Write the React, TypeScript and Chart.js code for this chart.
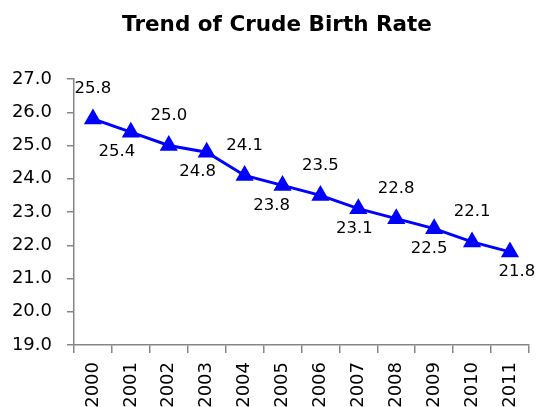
import React, { useEffect, useRef } from "react";
import { Chart, registerables } from "chart.js";

Chart.register(...registerables);

const years = ["2000", "2001", "2002", "2003", "2004", "2005", "2006", "2007", "2008", "2009", "2010", "2011"];
const birthRate = [25.8, 25.4, 25.0, 24.8, 24.1, 23.8, 23.5, 23.1, 22.8, 22.5, 22.1, 21.8];
const labelPlacement = ["above", "below", "above", "below", "above", "below", "above", "below", "above", "below", "above", "below"];
const labelShiftX = [0, -14, 0, -9, 0, -11, 0, -4, 0, -5, 0, 7];
const titleText = "Trend of Crude Birth Rate";

const FONT = "'DejaVu Sans', sans-serif";
const AXIS_COLOR = "#868686";

const dataLabels = {
  id: "dataLabels",
  afterDatasetsDraw(chart: any) {
    const ctx = chart.ctx;
    const meta = chart.getDatasetMeta(0);
    ctx.save();
    ctx.font = `16.5px ${FONT}`;
    ctx.fillStyle = "#000";
    ctx.textAlign = "center";
    ctx.textBaseline = "middle";
    meta.data.forEach((pt: any, i: number) => {
      const dy = labelPlacement[i] === "above" ? -30 : 20;
      ctx.fillText(birthRate[i].toFixed(1), pt.x + labelShiftX[i], pt.y + dy);
    });
    ctx.restore();
  },
};

const titlePlugin = {
  id: "customTitle",
  afterDraw(chart: any) {
    const ctx = chart.ctx;
    ctx.save();
    ctx.font = `bold 21.5px ${FONT}`;
    ctx.fillStyle = "#000";
    ctx.textAlign = "center";
    ctx.textBaseline = "middle";
    ctx.fillText(titleText, (chart.width + 13) / 2, 25);
    ctx.restore();
  },
};

export default function App() {
  const ref = useRef<HTMLCanvasElement>(null);
  useEffect(() => {
    if (!ref.current) return;
    const chart = new Chart(ref.current, {
      type: "line",
      data: {
        labels: years,
        datasets: [
          {
            data: birthRate,
            borderColor: "#0000FF",
            backgroundColor: "#0000FF",
            borderWidth: 3,
            pointStyle: "triangle",
            pointRadius: 8.5,
            pointBorderWidth: 2,
            pointBackgroundColor: "#0000FF",
            pointBorderColor: "#0000FF",
            tension: 0,
          },
        ],
      },
      options: {
        responsive: false,
        animation: false,
        layout: { padding: { left: 4, right: 8, top: 79, bottom: 0 } },
        plugins: {
          legend: { display: false },
          tooltip: { enabled: false },
          title: { display: false },
        },
        scales: {
          x: {
            offset: true,
            grid: {
              display: true,
              offset: true,
              drawOnChartArea: false,
              drawTicks: true,
              tickLength: 8,
              color: AXIS_COLOR,
              lineWidth: 1.5,
            },
            border: { display: true, color: AXIS_COLOR, width: 1.5 },
            ticks: {
              color: "#000",
              font: { family: FONT, size: 18 },
              minRotation: 90,
              maxRotation: 90,
              padding: 9,
              autoSkip: false,
            },
            afterFit(scale: any) {
              scale.height = 62;
            },
          },
          y: {
            min: 19,
            max: 27,
            grid: {
              display: true,
              drawOnChartArea: false,
              drawTicks: true,
              tickLength: 7,
              color: AXIS_COLOR,
              lineWidth: 1.5,
            },
            border: { display: true, color: AXIS_COLOR, width: 1.5 },
            ticks: {
              stepSize: 1,
              color: "#000",
              font: { family: FONT, size: 18 },
              padding: 15,
              callback: (v: any) => Number(v).toFixed(1),
            },
            afterFit(scale: any) {
              scale.width = 70;
            },
          },
        },
      },
      plugins: [dataLabels, titlePlugin],
    });
    return () => chart.destroy();
  }, []);
  return (
    <div style={{ position: "fixed", left: 0, top: 0, width: 541, height: 407, background: "#fff" }}>
      <canvas ref={ref} width={541} height={407} />
    </div>
  );
}
